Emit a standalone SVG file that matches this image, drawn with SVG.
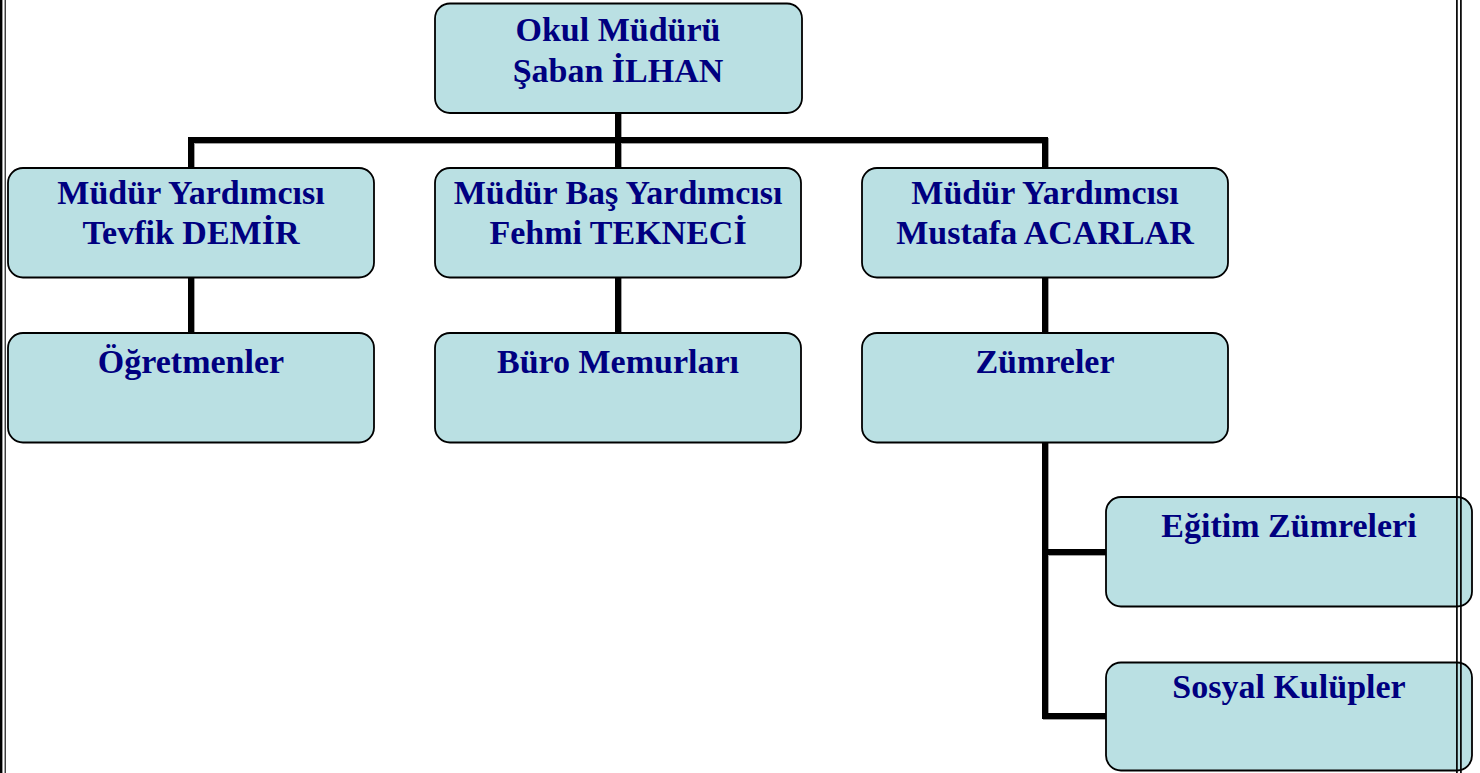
<svg xmlns="http://www.w3.org/2000/svg" width="1480" height="773" viewBox="0 0 1480 773">
<style>
.box{fill:#BAE0E3;stroke:#000;stroke-width:1.8}
.t{font-family:"Liberation Serif","Times New Roman",serif;font-weight:bold;font-size:34px;fill:#000080;text-anchor:middle}
.conn{fill:none;stroke:#000;stroke-width:6;stroke-linejoin:miter}
.shadow{fill:none;stroke:#a0a0a0;stroke-width:6;stroke-linejoin:miter}
.border{stroke:#000;fill:none}
</style>
<rect x="0" y="0" width="1480" height="773" fill="#fff"/>
<g id="connectors">
  <g transform="translate(1,1)">
    <path class="shadow" d="M191,168 V140 H1045 V168 M618,113 V168 M191,277 V333 M618,277 V333 M1045,277 V333 M1045,442 V716 H1106 M1045,552 H1106"/>
  </g>
  <path class="conn" d="M191,168 V140 H1045 V168 M618,113 V168 M191,277 V333 M618,277 V333 M1045,277 V333 M1045,442 V716 H1106 M1045,552 H1106"/>
</g>
<g id="okul-muduru">
  <rect class="box" x="435" y="3.5" width="367" height="109.5" rx="15"/>
  <text class="t" x="618" y="40.5">Okul Müdürü</text>
  <text class="t" x="618" y="81.5">Şaban İLHAN</text>
</g>
<g id="mudur-yardimcisi-tevfik">
  <rect class="box" x="8" y="168" width="366" height="109.5" rx="15"/>
  <text class="t" x="191" y="204">Müdür Yardımcısı</text>
  <text class="t" x="191" y="244">Tevfik DEMİR</text>
</g>
<g id="mudur-bas-yardimcisi">
  <rect class="box" x="435" y="168" width="366" height="109.5" rx="15"/>
  <text class="t" x="618" y="204">Müdür Baş Yardımcısı</text>
  <text class="t" x="618" y="244">Fehmi TEKNECİ</text>
</g>
<g id="mudur-yardimcisi-mustafa">
  <rect class="box" x="862" y="168" width="366" height="109.5" rx="15"/>
  <text class="t" x="1045" y="204">Müdür Yardımcısı</text>
  <text class="t" x="1045" y="244">Mustafa ACARLAR</text>
</g>
<g id="ogretmenler">
  <rect class="box" x="8" y="333" width="366" height="109.5" rx="15"/>
  <text class="t" x="191" y="372.5">Öğretmenler</text>
</g>
<g id="buro-memurlari">
  <rect class="box" x="435" y="333" width="366" height="109.5" rx="15"/>
  <text class="t" x="618" y="372.5">Büro Memurları</text>
</g>
<g id="zumreler">
  <rect class="box" x="862" y="333" width="366" height="109.5" rx="15"/>
  <text class="t" x="1045" y="372.5">Zümreler</text>
</g>
<g id="egitim-zumreleri">
  <rect class="box" x="1106" y="497" width="366" height="109.5" rx="15"/>
  <text class="t" x="1289" y="537">Eğitim Zümreleri</text>
</g>
<g id="sosyal-kulupler">
  <rect class="box" x="1106" y="662.5" width="366" height="108" rx="15"/>
  <text class="t" x="1289" y="698">Sosyal Kulüpler</text>
</g>
<g id="page-border">
  <line class="border" x1="1.2" y1="0" x2="1.2" y2="773" stroke-width="2.4"/>
  <line class="border" x1="5.2" y1="0" x2="5.2" y2="773" stroke-width="1.1"/>
  <line class="border" x1="1456.9" y1="0" x2="1456.9" y2="773" stroke-width="1.7"/>
  <line class="border" x1="1460.9" y1="0" x2="1460.9" y2="773" stroke-width="1.7"/>
</g>
</svg>
